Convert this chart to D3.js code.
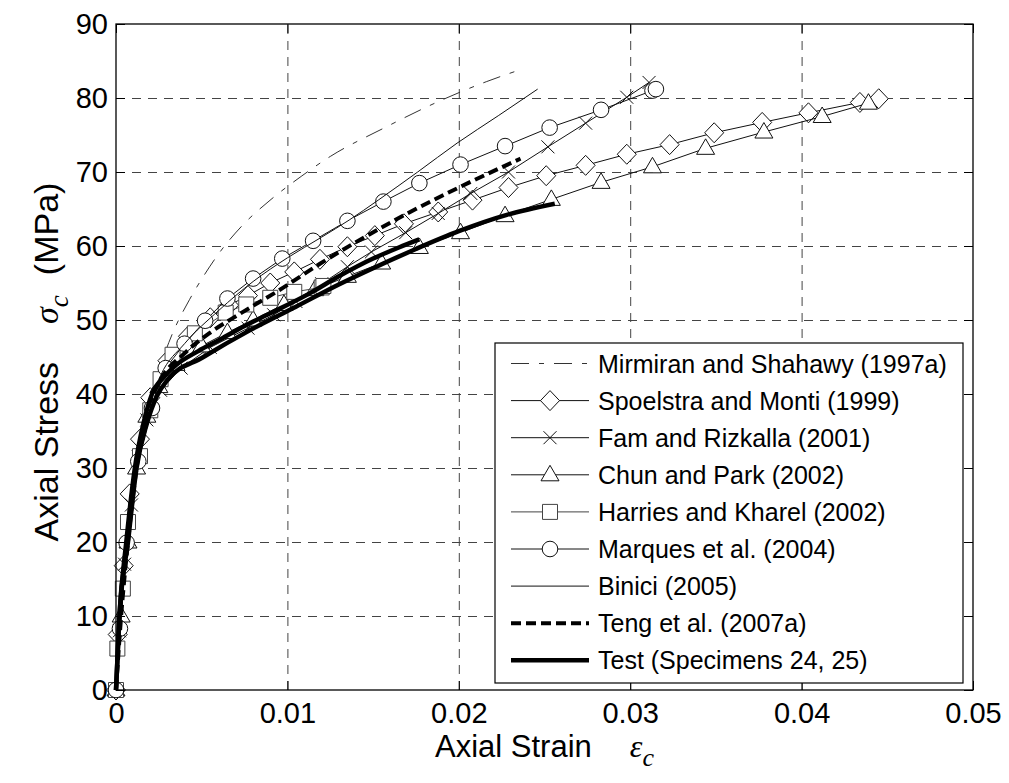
<!DOCTYPE html>
<html>
<head>
<meta charset="utf-8">
<script src="https://cdn.jsdelivr.net/npm/d3@7/dist/d3.min.js"></script>
<style>
body { margin: 0; background: #fff; }
svg { font-family: Arial, "Liberation Sans", sans-serif; }
.grid line { stroke: #444; stroke-dasharray: 9,7; }
.grid path { display: none; }
.axis path { display: none; }
.axis line { stroke: #000; }
.axis text { font-size: 29px; fill: #000; }
</style>
</head>
<body>
<svg id="chart" width="1009" height="783"></svg>
<script>
// tick values / labels
var xTicks = [0, 0.01, 0.02, 0.03, 0.04, 0.05];
var xTickLabels = ["0", "0.01", "0.02", "0.03", "0.04", "0.05"];
var yTicks = [0, 10, 20, 30, 40, 50, 60, 70, 80, 90];

var seriesNames = [
    "Mirmiran and Shahawy (1997a)",
    "Spoelstra and Monti (1999)",
    "Fam and Rizkalla (2001)",
    "Chun and Park (2002)",
    "Harries and Kharel (2002)",
    "Marques et al. (2004)",
    "Binici (2005)",
    "Teng et al. (2007a)",
    "Test (Specimens 24, 25)"
];

// [strain, stress MPa]
var mirmiran = [[0,0],[0.0002,8],[0.0006,20],[0.0011,30],[0.0017,37],[0.0024,42.5],[0.0033,48.2],[0.0043,52.8],[0.0051,55.9],[0.0061,59.3],[0.0073,62.6],[0.0091,66.4],[0.0108,69.4],[0.0125,72.1],[0.0156,75.9],[0.0186,79.3],[0.0216,82.2],[0.0233,83.6]];
var spoelstra = [[0,0],[0.0001,7.5],[0.00045,16.8],[0.0008,26.5],[0.0014,33.9],[0.002,39.5],[0.003,44.5],[0.0042,47.8],[0.0055,50.3],[0.0066,52],[0.0077,53.3],[0.009,55],[0.0104,56.5],[0.0119,58.2],[0.0135,59.9],[0.0151,61.4],[0.0168,63],[0.0188,64.6],[0.0208,66.2],[0.0229,67.9],[0.0251,69.5],[0.0274,70.9],[0.0298,72.4],[0.0323,73.7],[0.0349,75.3],[0.0377,76.7],[0.0404,78],[0.0434,79.4],[0.0445,79.9]];
var fam = [[0,0],[0.0002,8],[0.0005,17],[0.0009,25],[0.0013,31.5],[0.0018,36.5],[0.0026,40.5],[0.0038,43.5],[0.0055,46.3],[0.0077,48.9],[0.0092,50.7],[0.0105,52.5],[0.012,54.9],[0.0135,57.2],[0.0149,59.2],[0.0169,61.8],[0.0188,64.4],[0.0207,67.1],[0.0229,70],[0.0252,73.4],[0.0274,76.6],[0.0298,80.1],[0.0311,82.1]];
var chun = [[0,0],[0.0003,10],[0.0007,20],[0.0012,30],[0.0018,37],[0.0025,41],[0.0035,44],[0.005,46.5],[0.0065,48.3],[0.008,50],[0.0098,52.1],[0.0116,54.1],[0.0135,55.9],[0.0155,57.7],[0.0177,59.8],[0.0201,61.8],[0.0227,64.1],[0.0254,66.3],[0.0283,68.6],[0.0313,70.7],[0.0344,73.2],[0.0378,75.4],[0.0412,77.5],[0.0439,79.3]];
var harries = [[0,0],[0.00008,5.6],[0.0004,13.7],[0.0007,22.7],[0.0014,31.6],[0.002,37.8],[0.0026,42],[0.0033,45.3],[0.0046,48.2],[0.0064,51],[0.0076,52.1],[0.009,53],[0.0104,53.8],[0.012,54.4],[0.0121,54.6]];
var marques = [[0,0],[0.00023,8.3],[0.00062,19.9],[0.0013,30.9],[0.0021,38.1],[0.0029,43.5],[0.004,46.8],[0.0052,49.9],[0.0065,52.9],[0.008,55.6],[0.0097,58.3],[0.0115,60.7],[0.0135,63.4],[0.0156,66],[0.0177,68.5],[0.0201,71],[0.0227,73.5],[0.0253,76],[0.0283,78.4],[0.0313,81],[0.0315,81.2]];
var binici = [[0,0],[0.0003,10],[0.0007,20],[0.0012,30],[0.0018,37.5],[0.0026,42.5],[0.004,46.8],[0.006,51.3],[0.008,55.2],[0.01,58.4],[0.012,61.2],[0.0136,63.5],[0.0153,66.2],[0.0176,70],[0.0199,73.9],[0.0223,77.6],[0.0246,81.2]];
var teng = [[0,0],[0.0003,10],[0.0007,20],[0.0012,30],[0.0018,37.5],[0.0025,41.5],[0.004,45.5],[0.0055,48.3],[0.0072,50.8],[0.0095,54],[0.0119,57.6],[0.0145,61.2],[0.017,64.4],[0.02,67.9],[0.0236,71.8]];
var test24 = [[0,0],[0.0002,10],[0.0006,20],[0.0011,30],[0.0016,36],[0.0021,40],[0.0028,42.3],[0.0035,43.9],[0.0048,45.8],[0.0061,47.4],[0.0075,49.2],[0.009,50.9],[0.0113,53.6],[0.013,55.9],[0.015,58.3],[0.0165,59.8],[0.0177,60.9]];
var test25 = [[0,0],[0.0002,10],[0.0007,20],[0.0012,30],[0.0018,36],[0.0024,39.8],[0.003,41.9],[0.0051,45],[0.0078,48.6],[0.0105,51.8],[0.013,54.8],[0.015,57],[0.0175,59.6],[0.02,62],[0.0228,64.2],[0.0256,65.7]];

// drawing style for each legend entry
var styles = [
    {data: [mirmiran], width: 1, dash: "18,10,5,10", marker: null, color: "#333", smooth: true},
    {data: [spoelstra], width: 1, dash: null, marker: "diamond", color: "#111"},
    {data: [fam], width: 1, dash: null, marker: "cross", color: "#111"},
    {data: [chun], width: 1, dash: null, marker: "triangle", color: "#111"},
    {data: [harries], width: 1, dash: null, marker: "square", color: "#444"},
    {data: [marques], width: 1, dash: null, marker: "circle", color: "#111"},
    {data: [binici], width: 1, dash: null, marker: null, color: "#111", smooth: true},
    {data: [teng], width: 4, dash: "10,5", marker: null, color: "#000", smooth: true},
    {data: [test24, test25], width: 4.5, dash: null, marker: null, color: "#000", smooth: true}
];

var margin = {top: 24, right: 36, bottom: 93, left: 116},
    width = 1009 - margin.left - margin.right,
    height = 783 - margin.top - margin.bottom;

var x = d3.scaleLinear().domain([0, 0.05]).range([0, width]),
    y = d3.scaleLinear().domain([0, 90]).range([height, 0]);

var svg = d3.select("#chart");
svg.append("rect").attr("width", 1009).attr("height", 783).attr("fill", "#fff");

var g = svg.append("g")
    .attr("transform", "translate(" + margin.left + "," + margin.top + ")");

// gridlines
g.append("g").attr("class", "grid")
    .attr("transform", "translate(0," + height + ")")
    .call(d3.axisBottom(x).tickValues(xTicks.slice(1, -1)).tickSize(-height).tickFormat(""));
g.append("g").attr("class", "grid")
    .call(d3.axisLeft(y).tickValues(yTicks.slice(1, -1)).tickSize(-width).tickFormat(""));

function markerPath(type) {
    if (type == "diamond") return "M0,-10L9.5,0L0,10L-9.5,0Z";
    if (type == "triangle") return "M0,-9.5L9,6L-9,6Z";
    if (type == "square") return "M-7.5,-7.5H7.5V7.5H-7.5Z";
    if (type == "cross") return "M-6.5,-6.5L6.5,6.5M-6.5,6.5L6.5,-6.5";
    return null;
}

function drawMarker(sel, type, color) {
    if (type == "circle") {
        sel.append("circle").attr("r", 7.8)
            .attr("fill", "#fff").attr("stroke", color).attr("stroke-width", 1);
    } else {
        sel.append("path").attr("d", markerPath(type))
            .attr("fill", type == "cross" ? "none" : "#fff")
            .attr("stroke", color).attr("stroke-width", 1);
    }
}

var plot = g.append("g");

styles.forEach(function(s) {
    var line = d3.line()
        .x(function(d) { return x(d[0]); })
        .y(function(d) { return y(d[1]); })
        .curve(s.smooth ? d3.curveMonotoneX : d3.curveLinear);
    s.data.forEach(function(series) {
        plot.append("path")
            .datum(series)
            .attr("d", line)
            .attr("fill", "none")
            .attr("stroke", s.color)
            .attr("stroke-width", s.width)
            .attr("stroke-dasharray", s.dash)
            .attr("stroke-linejoin", "round");
        if (s.marker) {
            plot.append("g").selectAll("g")
                .data(series)
                .enter().append("g")
                .attr("transform", function(d) { return "translate(" + x(d[0]) + "," + y(d[1]) + ")"; })
                .each(function() { drawMarker(d3.select(this), s.marker, s.color); });
        }
    });
});

// axes with inward ticks on all four sides
g.append("g").attr("class", "axis")
    .attr("transform", "translate(0," + height + ")")
    .call(d3.axisBottom(x).tickValues(xTicks).tickSizeInner(-9).tickSizeOuter(0).tickPadding(12)
        .tickFormat(function(d, i) { return xTickLabels[i]; }));
g.append("g").attr("class", "axis")
    .call(d3.axisLeft(y).tickValues(yTicks).tickSizeInner(-9).tickSizeOuter(0).tickPadding(8));
g.append("g").attr("class", "axis")
    .call(d3.axisTop(x).tickValues(xTicks).tickSizeInner(-9).tickSizeOuter(0).tickFormat(""));
g.append("g").attr("class", "axis")
    .attr("transform", "translate(" + width + ",0)")
    .call(d3.axisRight(y).tickValues(yTicks).tickSizeInner(-9).tickSizeOuter(0).tickFormat(""));

g.append("rect")
    .attr("width", width).attr("height", height)
    .attr("fill", "none").attr("stroke", "#000").attr("stroke-width", 1.3);

// axis titles (TeX-style wide gap before the symbol)
var serif = "'Liberation Serif', 'Times New Roman', serif";
var xt = svg.append("text")
    .attr("x", margin.left + width / 2)
    .attr("y", 757)
    .attr("text-anchor", "middle")
    .attr("font-size", 31);
xt.append("tspan").text("Axial Strain");
xt.append("tspan").attr("font-family", serif).attr("dx", 38)
    .attr("font-style", "italic").attr("font-size", 32).text("\u03b5");
xt.append("tspan").attr("font-family", serif)
    .attr("font-style", "italic").attr("font-size", 26).attr("dy", 9).text("c");

var yt = svg.append("text")
    .attr("transform", "translate(58," + (margin.top + height / 2 + 5) + ") rotate(-90)")
    .attr("text-anchor", "middle")
    .attr("font-size", 34);
yt.append("tspan").text("Axial Stress");
yt.append("tspan").attr("font-family", serif).attr("dx", 38)
    .attr("font-style", "italic").text("\u03c3");
yt.append("tspan").attr("font-family", serif)
    .attr("font-style", "italic").attr("font-size", 27).attr("dy", 10).text("c");
yt.append("tspan").attr("dy", -10).attr("dx", 20).text("(MPa)");

// legend
var legend = svg.append("g").attr("transform", "translate(495,343)");
legend.append("rect")
    .attr("width", 468).attr("height", 340)
    .attr("fill", "#fff").attr("stroke", "#000").attr("stroke-width", 1.2);

var rows = legend.selectAll("g.row")
    .data(seriesNames)
    .enter().append("g")
    .attr("class", "row")
    .attr("transform", function(d, i) { return "translate(0," + (20.5 + i * 37.1) + ")"; });

rows.append("line")
    .attr("x1", 16).attr("x2", 94)
    .attr("stroke", function(d, i) { return styles[i].color; })
    .attr("stroke-width", function(d, i) { return styles[i].width; })
    .attr("stroke-dasharray", function(d, i) { return styles[i].dash; });

rows.each(function(d, i) {
    if (styles[i].marker) {
        drawMarker(d3.select(this).append("g").attr("transform", "translate(55,0)"), styles[i].marker, styles[i].color);
    }
});

rows.append("text")
    .attr("x", 103).attr("y", 9)
    .attr("font-size", 25)
    .text(function(d) { return d; });
</script>
</body>
</html>
